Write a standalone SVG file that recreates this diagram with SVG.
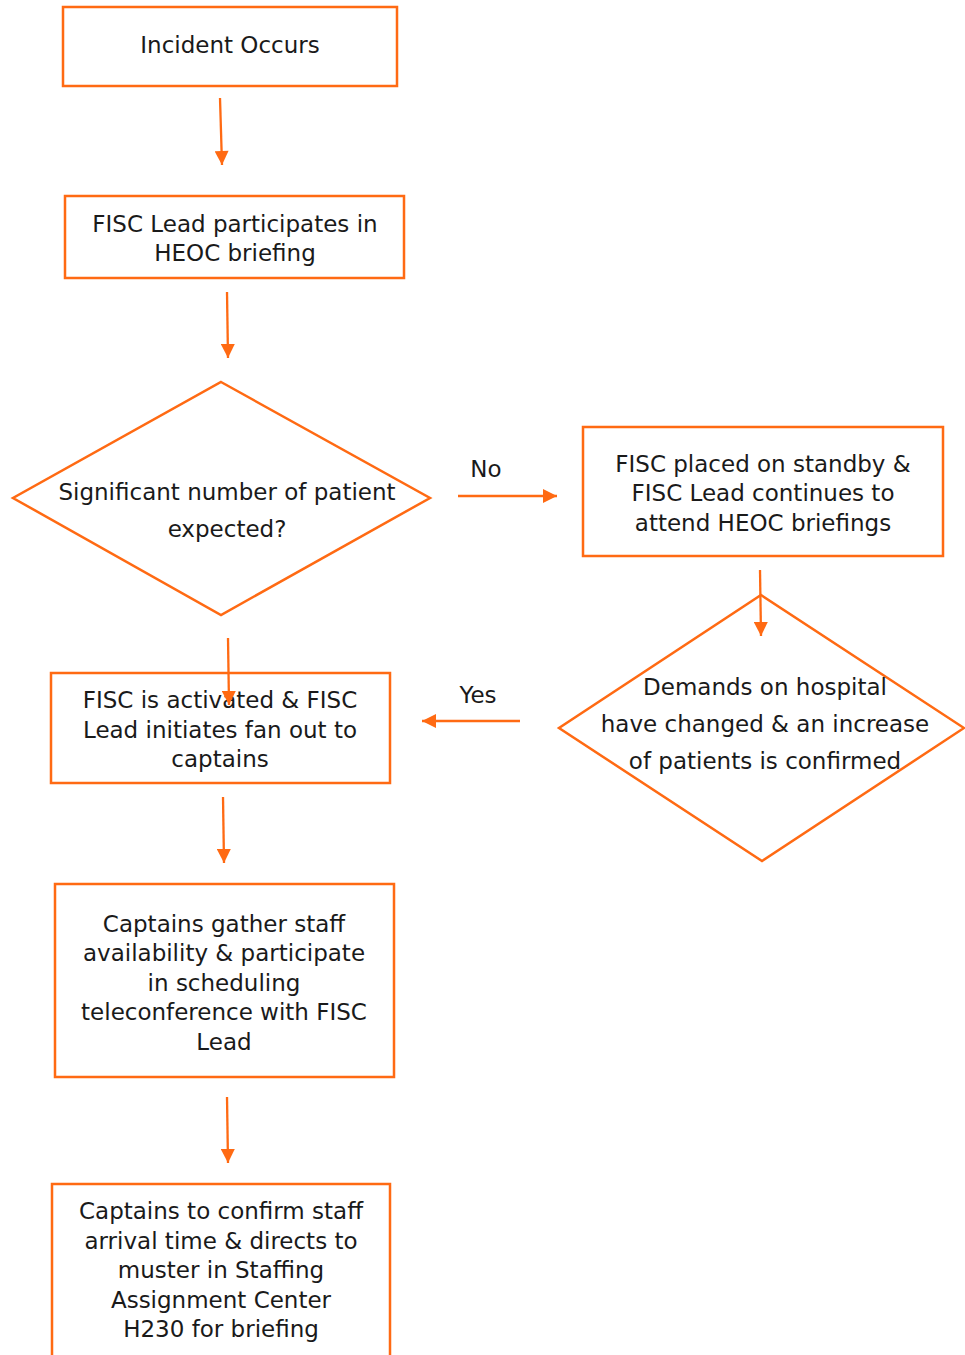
<svg xmlns="http://www.w3.org/2000/svg" width="965" height="1355" viewBox="0 0 965 1355">
<defs>
<style>
.box{fill:#fff;stroke:#FF6A13;stroke-width:2.5}
.t{font-family:"DejaVu Sans",sans-serif;font-size:23px;fill:#1a1a1a;text-anchor:middle}
.c{stroke:#FF6A13;stroke-width:2.3;fill:none;marker-end:url(#ah)}
</style>
<marker id="ah" viewBox="0 0 10 10" refX="10" refY="5" markerWidth="15" markerHeight="14" markerUnits="userSpaceOnUse" orient="auto">
<path d="M0,0 L10,5 L0,10 z" fill="#FF6A13"/>
</marker>
</defs>
<rect width="965" height="1355" fill="#fff"/>
<g id="n1"><rect class="box" x="63" y="7" width="334" height="79"/><text class="t" x="230" y="53">Incident Occurs</text></g>
<g id="n2"><rect class="box" x="65" y="196" width="339" height="82"/><text class="t" x="235" y="232">FISC Lead participates in</text><text class="t" x="235" y="261">HEOC briefing</text></g>
<g id="n3"><polygon class="box" points="221,382 430,498 221,615 13,498"/><text class="t" x="227" y="500">Significant number of patient</text><text class="t" x="227" y="537">expected?</text></g>
<g id="n4"><rect class="box" x="583" y="427" width="360" height="129"/><text class="t" x="763" y="472">FISC placed on standby &amp;</text><text class="t" x="763" y="501">FISC Lead continues to</text><text class="t" x="763" y="531">attend HEOC briefings</text></g>
<g id="n5"><polygon class="box" points="761,595 964,728 762,861 559,728"/><text class="t" x="765" y="695">Demands on hospital</text><text class="t" x="765" y="732">have changed &amp; an increase</text><text class="t" x="765" y="769">of patients is confirmed</text></g>
<g id="n6"><rect class="box" x="51" y="673" width="339" height="110"/><text class="t" x="220" y="708">FISC is activated &amp; FISC</text><text class="t" x="220" y="738">Lead initiates fan out to</text><text class="t" x="220" y="767">captains</text></g>
<g id="n7"><rect class="box" x="55" y="884" width="339" height="193"/><text class="t" x="224" y="932">Captains gather staff</text><text class="t" x="224" y="961">availability &amp; participate</text><text class="t" x="224" y="991">in scheduling</text><text class="t" x="224" y="1020">teleconference with FISC</text><text class="t" x="224" y="1050">Lead</text></g>
<g id="n8"><rect class="box" x="52" y="1184" width="338" height="200"/><text class="t" x="221" y="1219">Captains to confirm staff</text><text class="t" x="221" y="1249">arrival time &amp; directs to</text><text class="t" x="221" y="1278">muster in Staffing</text><text class="t" x="221" y="1308">Assignment Center</text><text class="t" x="221" y="1337">H230 for briefing</text></g>
<g id="connectors">
<line class="c" x1="220" y1="98" x2="222" y2="165"/>
<line class="c" x1="227" y1="292" x2="228" y2="358"/>
<line class="c" x1="458" y1="496" x2="557" y2="496"/>
<text class="t" x="486" y="477">No</text>
<line class="c" x1="760" y1="570" x2="761" y2="636"/>
<line class="c" x1="520" y1="721" x2="422" y2="721"/>
<text class="t" x="478" y="703">Yes</text>
<line class="c" x1="228" y1="638" x2="229" y2="705"/>
<line class="c" x1="223" y1="797" x2="224" y2="863"/>
<line class="c" x1="227" y1="1097" x2="228" y2="1163"/>
</g>
</svg>
